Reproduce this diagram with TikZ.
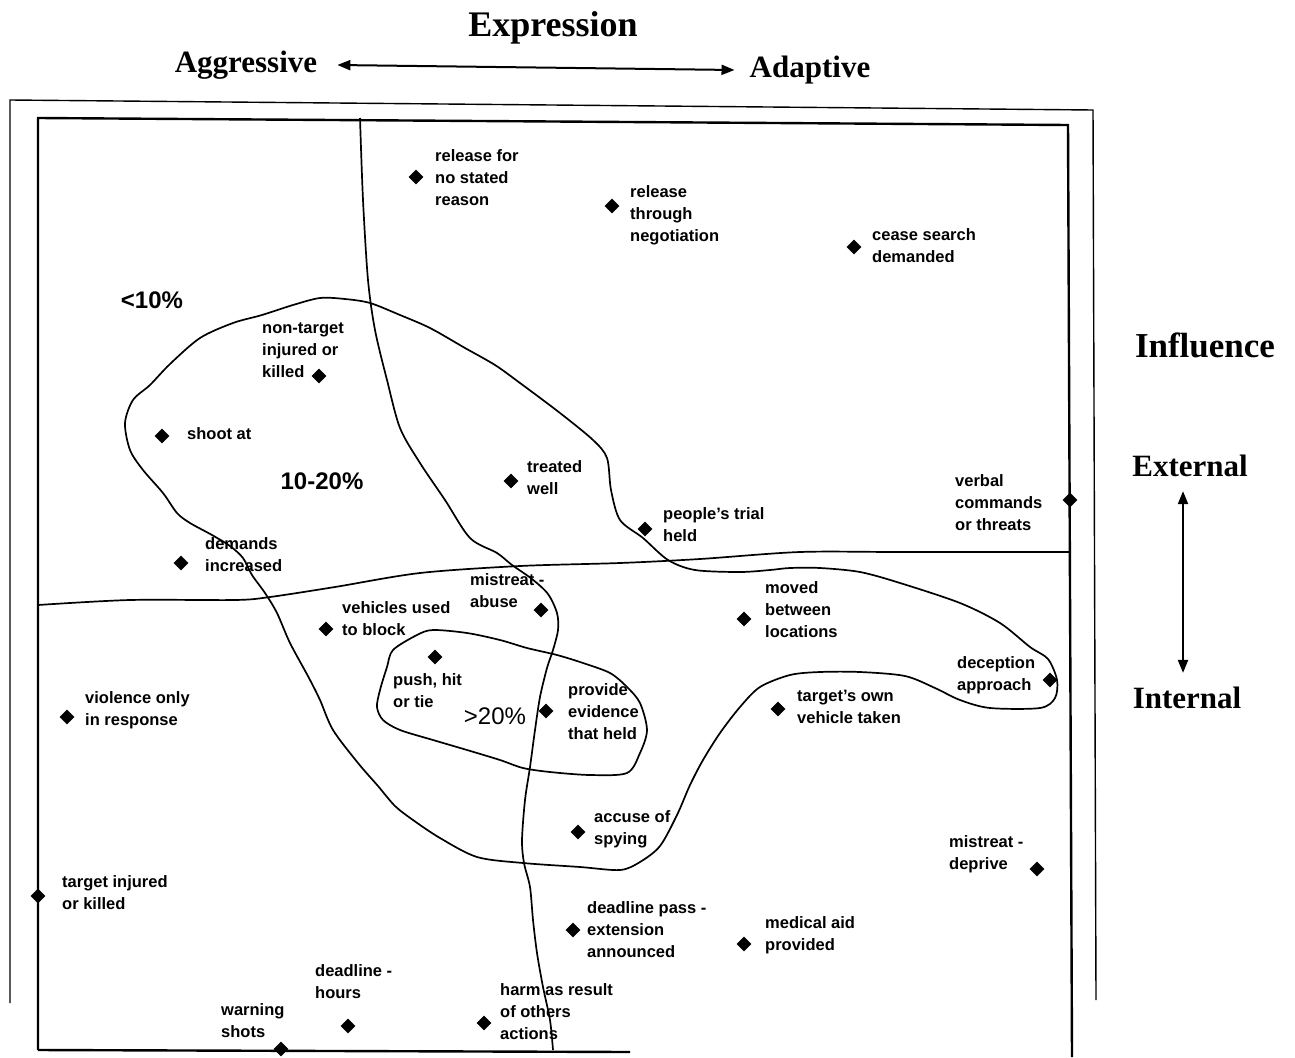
\documentclass[tikz,border=0pt]{standalone}
\usepackage{fontspec}
\setmainfont{Liberation Sans}
\newfontfamily\headfont{Liberation Serif}
\usetikzlibrary{shapes.geometric,arrows.meta}
\newcommand{\lblfont}{\fontsize{16.5}{22}\selectfont\bfseries}
\newcommand{\pctfont}{\fontsize{24}{28}\selectfont}
\begin{document}
\begin{tikzpicture}[x=1pt,y=-1pt,
  pt/.style={diamond,fill=black,inner sep=0pt,minimum size=15pt},
  lbl/.style={anchor=west,align=left,inner sep=0pt,font=\lblfont},
  pct/.style={inner sep=0pt,font=\pctfont\bfseries},
  head/.style={inner sep=0pt,font=\headfont\bfseries\fontsize{31}{34}\selectfont},
  frame/.style={line width=2.4pt},
  outer/.style={line width=1.4pt},
  region/.style={line width=1.7pt},
  axisarrow/.style={line width=2pt,{Triangle[length=13pt,width=10pt]}-{Triangle[length=13pt,width=10pt]}}]
\useasboundingbox (0,0) rectangle (1295,1057);

% axis headings
\node[head,font=\headfont\bfseries\fontsize{36}{40}\selectfont] (expr) at (553,28) {Expression};
\node[head] (aggr) at (246,65) {Aggressive};
\node[head] (adapt) at (810,70) {Adaptive};
\draw[axisarrow] ([xshift=20pt]aggr.east) -- ([xshift=-15pt]adapt.west);
\node[head,font=\headfont\bfseries\fontsize{35}{40}\selectfont] (infl) at (1205,345) {Influence};
\node[head] (ext) at (1190,466) {External};
\node[head] (int) at (1187,698) {Internal};
\draw[axisarrow] ([xshift=-7pt,yshift=-14pt]ext.south) -- ([xshift=-4pt,yshift=14pt]int.north);

% outer frame (open at the bottom)
\draw[outer] (10,1003) -- (10,100) -- (1093,110) -- (1096,1000);
% inner frame
\draw[frame] (38,1050) -- (38,118) -- (1068,125) -- (1072,1057);
\draw[frame] (38,1050) -- (630,1052);

% horizontal divider
\draw[region] plot[smooth,tension=0.5] coordinates {(38,605) (130,600) (235,600) (270,597) (335,587) (420,573) (520,566) (620,563) (700,559) (800,552) (900,552) (1070,552)};

% vertical divider
\draw[region] plot[smooth,tension=0.5] coordinates {(360,118) (363,200) (368,280) (375,330) (387,380) (400,428) (420,463) (445,500) (470,538) (497,553) (512,565) (532,579) (548,594) (557,613) (558,630) (553,650) (547,668) (540,697) (535,730) (530,767) (525,800) (522,840) (524,863) (530,887) (533,920) (537,953) (543,987) (550,1020) (553,1050)};

% 10-20% region
\draw[region] plot[smooth cycle,tension=0.5] coordinates {(150,385) (170,364) (200,338) (233,323) (262,315) (293,305) (320,298) (345,299) (370,303) (400,315) (430,328) (465,348) (495,365) (520,383) (560,413) (593,440) (607,458) (611,490) (620,520) (643,538) (668,560) (695,570) (740,572) (770,570) (790,568) (820,568) (860,572) (900,583) (960,603) (1000,623) (1030,647) (1048,659) (1057,680) (1055,698) (1040,708) (990,708) (960,700) (935,688) (905,676) (860,672) (820,672) (790,675) (760,687) (740,707) (720,733) (703,760) (690,785) (677,815) (660,846) (640,862) (620,870) (580,867) (523,863) (477,857) (440,838) (413,820) (395,806) (378,786) (358,763) (333,730) (320,700) (309,678) (290,643) (277,613) (265,593) (252,575) (243,558) (230,546) (212,535) (190,523) (177,513) (163,493) (143,470) (130,450) (125,423) (133,400)};

% >20% region
\draw[region] plot[smooth cycle,tension=0.5] coordinates {(393,650) (417,635) (433,630) (467,633) (500,640) (527,648) (557,655) (583,663) (610,673) (627,687) (640,703) (647,730) (640,753) (627,773) (590,775) (550,772) (523,768) (500,760) (467,750) (433,740) (400,730) (383,720) (377,707) (380,690) (387,667)};

% region percentages
\node[pct] (p10) at (152,300) {<10\%};
\node[pct] (p1020) at (322,481) {10-20\%};
\node[pct,font=\pctfont] (p20) at (495,716) {>20\%};

% behaviours
\node[pt] (d1) at (416,177) {};
\node[lbl] (t1) at (435,178) {release for\\no stated\\reason};
\node[pt] (d2) at (612,206) {};
\node[lbl] (t2) at (630,215) {release\\through\\negotiation};
\node[pt] (d3) at (854,247) {};
\node[lbl] (t3) at (872,246) {cease search\\demanded};
\node[pt] (d4) at (319,376) {};
\node[lbl] (t4) at (262,350) {non-target\\injured or\\killed};
\node[pt] (d5) at (162,436) {};
\node[lbl] (t5) at (187,434) {shoot at};
\node[pt] (d6) at (511,481) {};
\node[lbl] (t6) at (527,478) {treated\\well};
\node[pt] (d7) at (645,529) {};
\node[lbl] (t7) at (663,525) {people's trial\\held};
\node[pt] (d8) at (1070,500) {};
\node[lbl] (t8) at (955,503) {verbal\\commands\\or threats};
\node[pt] (d9) at (181,563) {};
\node[lbl] (t9) at (205,555) {demands\\increased};
\node[pt] (d10) at (541,610) {};
\node[lbl] (t10) at (470,591) {mistreat -\\abuse};
\node[pt] (d11) at (326,629) {};
\node[lbl] (t11) at (342,619) {vehicles used\\to block};
\node[pt] (d12) at (744,619) {};
\node[lbl] (t12) at (765,610) {moved\\between\\locations};
\node[pt] (d13) at (435,657) {};
\node[lbl] (t13) at (393,691) {push, hit\\or tie};
\node[pt] (d14) at (1050,680) {};
\node[lbl] (t14) at (957,675) {deception\\approach};
\node[pt] (d15) at (778,709) {};
\node[lbl] (t15) at (797,707) {target's own\\vehicle taken};
\node[pt] (d16) at (67,717) {};
\node[lbl] (t16) at (85,710) {violence only\\in response};
\node[pt] (d17) at (546,711) {};
\node[lbl] (t17) at (568,712) {provide\\evidence\\that held};
\node[pt] (d18) at (578,832) {};
\node[lbl] (t18) at (594,829) {accuse of\\spying};
\node[pt] (d19) at (1037,869) {};
\node[lbl] (t19) at (949,854) {mistreat -\\deprive};
\node[pt] (d20) at (38,896) {};
\node[lbl] (t20) at (62,893) {target injured\\or killed};
\node[pt] (d21) at (573,930) {};
\node[lbl] (t21) at (587,930) {deadline pass -\\extension\\announced};
\node[pt] (d22) at (744,944) {};
\node[lbl] (t22) at (765,935) {medical aid\\provided};
\node[pt] (d23) at (348,1026) {};
\node[lbl] (t23) at (315,982) {deadline -\\hours};
\node[pt] (d24) at (484,1023) {};
\node[lbl] (t24) at (500,1012) {harm as result\\of others\\actions};
\node[pt] (d25) at (281,1049) {};
\node[lbl] (t25) at (221,1021) {warning\\shots};
\end{tikzpicture}
\end{document}
